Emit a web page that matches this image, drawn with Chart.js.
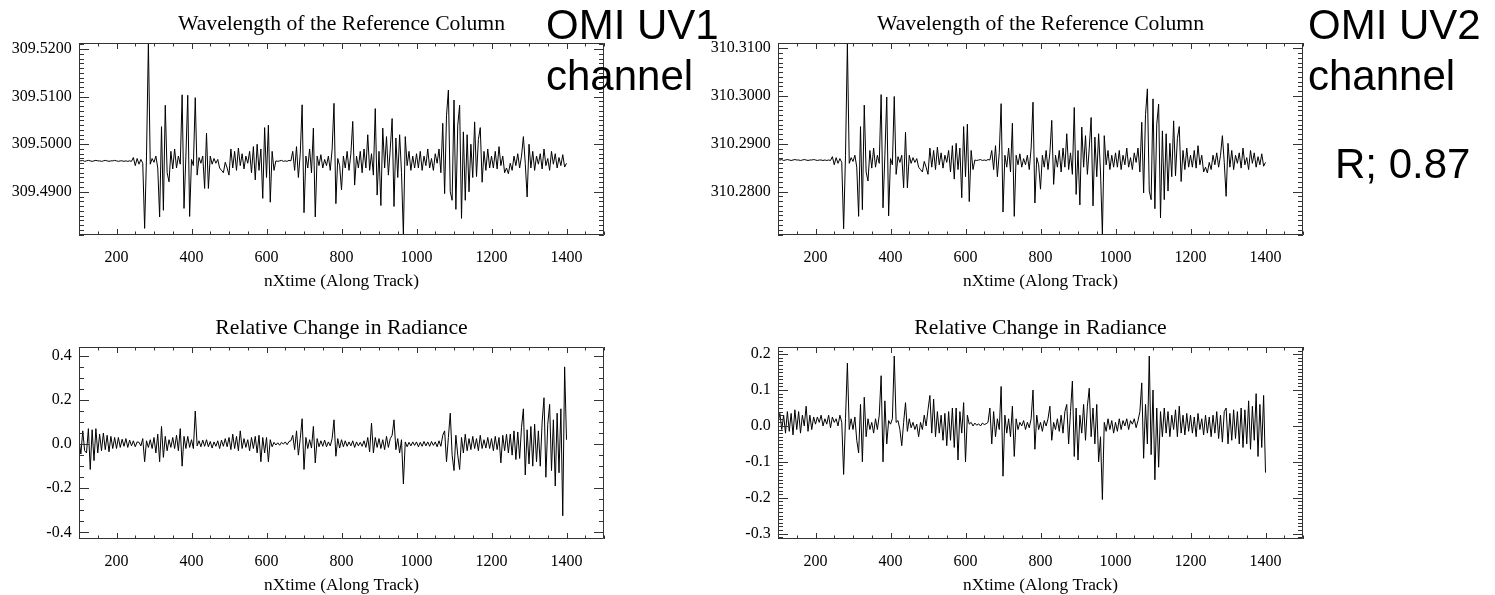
<!DOCTYPE html>
<html>
<head>
<meta charset="utf-8">
<title>OMI UV1 / UV2 reference column</title>
<script src="https://cdn.jsdelivr.net/npm/chart.js@4.4.1/dist/chart.umd.min.js"></script>
<style>
  body { margin: 0; background: #fff; overflow: hidden; }
  #page { position: relative; width: 1495px; height: 595px; overflow: hidden; background: #fff; }
  #page canvas { position: absolute; }
  .tag { position: absolute; font-family: 'Liberation Sans', Arial, sans-serif; font-size: 42px;
         line-height: 51.4px; color: #000; white-space: nowrap; }
</style>
</head>
<body>
<div id="page">
  <canvas id="uv1Wave" width="640" height="300" style="left:0;top:0"></canvas>
  <canvas id="uv2Wave" width="640" height="300" style="left:699px;top:0"></canvas>
  <canvas id="uv1Rad" width="640" height="300" style="left:0;top:304px"></canvas>
  <canvas id="uv2Rad" width="640" height="300" style="left:699px;top:304px"></canvas>
  <div class="tag" style="left:546px;top:-1px">OMI UV1<br>channel</div>
  <div class="tag" style="left:1308px;top:-1px">OMI UV2<br>channel</div>
  <div class="tag" style="left:1335px;top:138px">R; 0.87</div>
</div>

<script>
// along-track samples: every 5th nXtime from 100 to 1400
const xStart = 100;
const xStep = 5;
const xTickLabels = [200, 400, 600, 800, 1000, 1200, 1400];

const uv1WaveTicks = [309.49, 309.50, 309.51, 309.52];
const uv2WaveTicks = [310.28, 310.29, 310.30, 310.31];
const uv1RadTicks = [-0.4, -0.2, 0.0, 0.2, 0.4];
const uv2RadTicks = [-0.3, -0.2, -0.1, 0.0, 0.1, 0.2];

// wavelength of the reference column (nm)
const uv1Wavelength = [
  309.4966, 309.4965, 309.4966, 309.4964, 309.4965, 309.4966, 309.4965, 309.4964, 309.4965, 309.4966, 309.4965, 309.4965, 309.4964, 309.4965, 309.4966, 309.4965, 309.4964, 309.4965, 309.4965, 309.4966,
  309.4965, 309.4964, 309.4965, 309.4965, 309.4964, 309.4965, 309.4964, 309.4965, 309.4964, 309.4972, 309.4955, 309.4970, 309.4958, 309.4968, 309.4960, 309.4823, 309.4975, 309.5213, 309.4958, 309.4970,
  309.4962, 309.4975, 309.4950, 309.4847, 309.5037, 309.4861, 309.5082, 309.4940, 309.4921, 309.4985, 309.4948, 309.4990, 309.4950, 309.4975, 309.4958, 309.5104, 309.4865, 309.4975, 309.5103, 309.4848,
  309.4968, 309.4955, 309.5098, 309.4935, 309.4972, 309.4960, 309.4975, 309.4907, 309.5023, 309.4907, 309.4975, 309.4958, 309.4970, 309.4960, 309.4968, 309.4950, 309.4945, 309.4940, 309.4962, 309.4950,
  309.4935, 309.4990, 309.4950, 309.4985, 309.4945, 309.4992, 309.4955, 309.4980, 309.4948, 309.4975, 309.4960, 309.4985, 309.4940, 309.4995, 309.4925, 309.5000, 309.4945, 309.4990, 309.4886, 309.5035,
  309.4930, 309.5040, 309.4878, 309.4985, 309.4945, 309.4965, 309.4964, 309.4965, 309.4966, 309.4964, 309.4965, 309.4964, 309.4966, 309.4965, 309.4985, 309.4945, 309.4995, 309.4930, 309.4980, 309.5083,
  309.4856, 309.4975, 309.4950, 309.4990, 309.4940, 309.5034, 309.4847, 309.4975, 309.4955, 309.4978, 309.4950, 309.4968, 309.4955, 309.4975, 309.4945, 309.4990, 309.5086, 309.4875, 309.4970, 309.4955,
  309.4904, 309.4975, 309.4950, 309.4985, 309.4945, 309.4980, 309.5048, 309.4914, 309.4975, 309.4950, 309.4985, 309.4940, 309.4990, 309.4950, 309.5020, 309.4945, 309.4980, 309.4935, 309.5075, 309.4893,
  309.4985, 309.4871, 309.5034, 309.4950, 309.5016, 309.4935, 309.4990, 309.5054, 309.4869, 309.5013, 309.4930, 309.5020, 309.4940, 309.4809, 309.5016, 309.4955, 309.4985, 309.4945, 309.4975, 309.4950,
  309.4980, 309.4950, 309.4985, 309.4945, 309.4975, 309.4955, 309.4990, 309.4950, 309.4970, 309.4945, 309.4980, 309.4960, 309.4990, 309.4940, 309.5044, 309.4896, 309.5060, 309.5114, 309.4900, 309.4882,
  309.5093, 309.4863, 309.5040, 309.5082, 309.4844, 309.5026, 309.4882, 309.5020, 309.4900, 309.5000, 309.4930, 309.5047, 309.4932, 309.5010, 309.5035, 309.4920, 309.4985, 309.4945, 309.4990, 309.4950,
  309.4975, 309.4950, 309.4985, 309.4948, 309.4995, 309.4955, 309.4975, 309.4940, 309.4950, 309.4938, 309.4960, 309.4945, 309.4975, 309.4955, 309.4980, 309.4950, 309.4975, 309.5016, 309.4960, 309.4889,
  309.5000, 309.4950, 309.4985, 309.4945, 309.4975, 309.4958, 309.4980, 309.4948, 309.4990, 309.4955, 309.4970, 309.4945, 309.4985, 309.4958, 309.4980, 309.4950, 309.4972, 309.4955, 309.4978, 309.4952,
  309.4960
];

const uv2Wavelength = [
  310.2867, 310.2866, 310.2867, 310.2865, 310.2866, 310.2867, 310.2866, 310.2865, 310.2866, 310.2867, 310.2866, 310.2866, 310.2865, 310.2866, 310.2867, 310.2866, 310.2865, 310.2866, 310.2866, 310.2867,
  310.2866, 310.2865, 310.2866, 310.2866, 310.2865, 310.2866, 310.2865, 310.2866, 310.2865, 310.2873, 310.2856, 310.2871, 310.2859, 310.2869, 310.2861, 310.2722, 310.2876, 310.3110, 310.2859, 310.2871,
  310.2863, 310.2876, 310.2851, 310.2748, 310.2936, 310.2762, 310.2981, 310.2841, 310.2822, 310.2886, 310.2849, 310.2891, 310.2851, 310.2876, 310.2859, 310.3003, 310.2766, 310.2876, 310.2998, 310.2749,
  310.2869, 310.2856, 310.2999, 310.2836, 310.2873, 310.2861, 310.2876, 310.2808, 310.2924, 310.2808, 310.2876, 310.2859, 310.2871, 310.2861, 310.2869, 310.2851, 310.2846, 310.2841, 310.2863, 310.2851,
  310.2836, 310.2891, 310.2851, 310.2886, 310.2846, 310.2893, 310.2856, 310.2881, 310.2849, 310.2876, 310.2861, 310.2886, 310.2841, 310.2896, 310.2826, 310.2901, 310.2846, 310.2891, 310.2787, 310.2936,
  310.2831, 310.2941, 310.2779, 310.2886, 310.2846, 310.2866, 310.2865, 310.2866, 310.2867, 310.2865, 310.2866, 310.2865, 310.2867, 310.2866, 310.2886, 310.2846, 310.2896, 310.2831, 310.2881, 310.2984,
  310.2757, 310.2876, 310.2851, 310.2891, 310.2841, 310.2943, 310.2748, 310.2876, 310.2856, 310.2879, 310.2851, 310.2869, 310.2856, 310.2876, 310.2846, 310.2891, 310.2987, 310.2776, 310.2871, 310.2856,
  310.2805, 310.2876, 310.2851, 310.2886, 310.2846, 310.2881, 310.2949, 310.2815, 310.2876, 310.2851, 310.2886, 310.2841, 310.2891, 310.2851, 310.2921, 310.2846, 310.2881, 310.2836, 310.2976, 310.2794,
  310.2886, 310.2772, 310.2935, 310.2851, 310.2917, 310.2836, 310.2891, 310.2955, 310.2770, 310.2914, 310.2831, 310.2921, 310.2841, 310.2710, 310.2917, 310.2856, 310.2886, 310.2846, 310.2876, 310.2851,
  310.2881, 310.2851, 310.2886, 310.2846, 310.2876, 310.2856, 310.2891, 310.2851, 310.2871, 310.2846, 310.2881, 310.2861, 310.2891, 310.2841, 310.2945, 310.2797, 310.2961, 310.3015, 310.2801, 310.2783,
  310.2994, 310.2764, 310.2941, 310.2983, 310.2745, 310.2927, 310.2783, 310.2921, 310.2801, 310.2901, 310.2831, 310.2948, 310.2833, 310.2911, 310.2936, 310.2821, 310.2886, 310.2846, 310.2891, 310.2851,
  310.2876, 310.2851, 310.2886, 310.2849, 310.2896, 310.2856, 310.2876, 310.2841, 310.2851, 310.2839, 310.2861, 310.2846, 310.2876, 310.2856, 310.2881, 310.2851, 310.2876, 310.2917, 310.2861, 310.2790,
  310.2901, 310.2851, 310.2886, 310.2846, 310.2876, 310.2859, 310.2881, 310.2849, 310.2891, 310.2856, 310.2871, 310.2846, 310.2886, 310.2859, 310.2881, 310.2851, 310.2873, 310.2856, 310.2879, 310.2853,
  310.2861
];

// relative change in radiance
const uv1Radiance = [
  0.020, -0.045, 0.060, -0.030, -0.040, 0.070, -0.115, 0.065, -0.075, 0.070, -0.040, 0.045, -0.030, 0.050, -0.025, 0.040, -0.035, 0.035, -0.020, 0.030,
  -0.020, 0.030, -0.015, 0.022, -0.010, 0.025, -0.015, 0.018, -0.008, 0.015, -0.012, 0.010, 0.008, -0.008, 0.025, -0.080, 0.015, -0.015, 0.020, -0.020,
  0.030, -0.040, 0.045, -0.080, 0.080, -0.060, 0.035, -0.030, 0.020, -0.015, 0.030, -0.020, 0.040, -0.030, 0.070, -0.100, 0.035, -0.020, 0.035, -0.015,
  0.020, -0.020, 0.150, -0.008, 0.015, -0.012, 0.018, -0.010, 0.020, -0.012, 0.012, -0.018, 0.010, -0.010, 0.015, -0.020, 0.018, -0.010, 0.025, -0.012,
  0.030, -0.025, 0.045, -0.020, 0.035, -0.030, 0.060, -0.020, 0.025, -0.015, 0.020, -0.030, 0.030, -0.020, 0.035, -0.040, 0.040, -0.080, 0.030, -0.040,
  0.030, -0.080, 0.020, -0.012, 0.008, -0.004, 0.006, -0.005, 0.008, 0.000, 0.010, -0.003, 0.012, 0.015, 0.040, -0.025, 0.060, -0.050, 0.025, 0.115,
  -0.115, 0.030, -0.020, 0.020, -0.018, 0.080, -0.085, 0.025, -0.012, 0.015, -0.010, 0.018, -0.012, 0.010, -0.008, 0.025, 0.110, -0.055, 0.025, -0.018,
  0.020, -0.012, 0.015, -0.010, 0.010, -0.008, 0.015, -0.015, 0.010, -0.008, 0.008, -0.010, 0.015, -0.015, 0.030, -0.035, 0.095, -0.040, 0.030, -0.015,
  0.025, -0.020, 0.020, -0.025, 0.035, -0.015, 0.025, 0.040, 0.110, -0.025, 0.025, -0.040, 0.020, -0.180, 0.010, -0.012, 0.008, -0.008, 0.010, -0.006,
  0.010, -0.012, 0.008, -0.010, 0.012, -0.008, 0.010, -0.010, 0.012, -0.006, 0.010, -0.012, 0.015, -0.010, 0.040, 0.060, -0.080, 0.030, 0.140, -0.050,
  -0.120, 0.040, -0.050, -0.115, 0.030, -0.040, 0.045, -0.030, 0.025, -0.025, 0.035, -0.020, 0.025, -0.030, 0.040, -0.020, 0.020, -0.018, 0.030, -0.020,
  0.025, -0.030, 0.035, -0.025, 0.030, -0.085, 0.040, -0.030, 0.045, -0.040, 0.045, -0.050, 0.060, -0.070, 0.055, -0.065, 0.075, 0.160, -0.140, 0.065,
  -0.090, 0.080, -0.100, 0.090, -0.080, 0.060, -0.100, 0.100, 0.210, -0.150, 0.090, 0.180, -0.120, 0.110, -0.190, 0.140, -0.130, 0.160, -0.325, 0.350,
  0.020
];

const uv2Radiance = [
  0.010, 0.035, -0.010, 0.030, -0.020, 0.040, -0.015, 0.035, -0.025, 0.045, -0.010, 0.040, -0.020, 0.030, 0.000, 0.055, -0.015, 0.030, -0.010, 0.025,
  0.005, 0.025, 0.010, 0.030, 0.000, 0.020, 0.005, 0.030, -0.005, 0.025, 0.010, 0.020, 0.000, 0.030, 0.010, -0.135, 0.020, 0.175, -0.010, 0.020,
  -0.010, 0.025, -0.040, -0.075, 0.060, -0.100, 0.080, -0.030, 0.020, -0.010, 0.010, -0.020, 0.020, -0.010, 0.030, 0.140, -0.100, 0.070, -0.050, 0.015,
  0.005, 0.020, 0.195, 0.010, 0.015, -0.010, -0.055, 0.010, 0.065, -0.015, 0.020, -0.005, 0.010, -0.010, 0.005, -0.030, 0.010, -0.010, 0.030, 0.000,
  0.045, 0.085, -0.020, 0.075, -0.030, 0.040, -0.020, 0.030, -0.040, 0.035, -0.055, 0.040, -0.040, 0.050, -0.060, 0.050, -0.095, 0.040, -0.020, 0.065,
  -0.100, 0.030, 0.005, 0.010, 0.000, 0.008, 0.002, 0.006, 0.000, 0.008, 0.004, 0.006, 0.010, 0.050, -0.050, 0.040, -0.030, 0.020, -0.010, 0.110,
  -0.140, 0.030, -0.020, 0.020, -0.030, 0.055, -0.085, 0.020, -0.010, 0.010, 0.000, 0.015, -0.010, 0.010, -0.005, 0.020, 0.100, -0.065, 0.030, -0.010,
  0.010, -0.015, 0.015, 0.000, 0.020, 0.055, -0.040, 0.010, -0.010, 0.020, -0.015, 0.030, -0.020, 0.040, 0.060, -0.050, 0.040, 0.125, -0.085, 0.050,
  -0.095, 0.030, -0.020, 0.060, -0.040, 0.055, 0.105, -0.030, 0.050, -0.050, 0.060, -0.100, -0.030, -0.205, 0.010, -0.015, 0.020, -0.010, 0.015, -0.020,
  0.010, -0.015, 0.020, -0.010, 0.015, 0.000, 0.020, -0.010, 0.015, 0.005, 0.020, -0.005, 0.015, 0.040, 0.120, -0.090, 0.060, -0.050, 0.195, -0.080,
  0.100, -0.150, 0.050, -0.115, 0.040, -0.030, 0.050, -0.020, 0.040, -0.030, 0.030, -0.010, 0.045, -0.030, 0.055, -0.020, 0.030, -0.025, 0.035, -0.015,
  0.030, -0.020, 0.025, -0.030, 0.035, -0.010, 0.020, -0.025, 0.030, -0.020, 0.025, -0.030, 0.030, -0.020, 0.040, -0.035, 0.030, -0.045, 0.040, 0.050,
  -0.050, 0.035, -0.040, 0.045, -0.035, 0.040, -0.050, 0.050, -0.060, 0.045, -0.050, 0.070, -0.065, 0.055, -0.040, 0.090, -0.085, 0.060, -0.060, 0.085,
  -0.130
];

const serif = "'Liberation Serif', 'Times New Roman', serif";

// closed frame with inward ticks on all four sides
const axisFrame = {
  id: 'axisFrame',
  afterDraw(chart, args, opts) {
    const { ctx, chartArea: a, scales: { x, y } } = chart;
    ctx.save();
    ctx.strokeStyle = '#333';
    ctx.lineWidth = 1;
    ctx.beginPath();
    ctx.rect(a.left + 0.5, a.top + 0.5, a.width - 1, a.height - 1);

    for (let v = x.min; v <= x.max; v += 50) {
      const px = Math.round(x.getPixelForValue(v)) + 0.5;
      const len = xTickLabels.includes(v) ? 6 : 3.5;
      ctx.moveTo(px, a.bottom); ctx.lineTo(px, a.bottom - len);
      ctx.moveTo(px, a.top); ctx.lineTo(px, a.top + len);
    }

    const step = opts.minor;
    for (let k = Math.ceil(y.min / step - 1e-6); k * step <= y.max + 1e-9; k++) {
      const v = k * step;
      const py = Math.round(y.getPixelForValue(v)) + 0.5;
      const major = opts.majors.some(t => Math.abs(t - v) < step / 2);
      const len = major ? 10 : 5;
      ctx.moveTo(a.left, py); ctx.lineTo(a.left + len, py);
      ctx.moveTo(a.right, py); ctx.lineTo(a.right - len, py);
    }
    ctx.stroke();
    ctx.restore();
  }
};

function makePanel(id, title, values, yMin, yMax, yTicks, yMinor, digits) {
  const points = values.map((v, i) => ({ x: xStart + i * xStep, y: v }));
  return new Chart(document.getElementById(id), {
    type: 'line',
    data: {
      datasets: [{
        data: points,
        borderColor: '#000',
        borderWidth: 1,
        pointRadius: 0,
        tension: 0,
        fill: false
      }]
    },
    options: {
      responsive: false,
      animation: false,
      events: [],
      layout: { padding: { left: 0, right: 36, top: 0, bottom: 0 } },
      plugins: {
        legend: { display: false },
        tooltip: { enabled: false },
        title: {
          display: true,
          text: title,
          fullSize: false,
          color: '#000',
          font: { family: serif, size: 21.7, weight: 'normal' },
          padding: { top: 11.4, bottom: 5.56 }
        },
        axisFrame: { minor: yMinor, majors: yTicks }
      },
      scales: {
        x: {
          type: 'linear',
          min: 100,
          max: 1500,
          grid: { display: false, drawTicks: false },
          border: { display: false },
          afterBuildTicks: s => { s.ticks = xTickLabels.map(v => ({ value: v })); },
          ticks: {
            color: '#000',
            font: { family: serif, size: 16 },
            padding: 13,
            maxRotation: 0,
            autoSkip: false,
            callback: v => String(v)
          },
          title: {
            display: true,
            text: 'nXtime (Along Track)',
            color: '#000',
            font: { family: serif, size: 17.3 },
            padding: { top: 0, bottom: 8.5 }
          },
          afterFit: s => { s.height = 65; }
        },
        y: {
          type: 'linear',
          min: yMin,
          max: yMax,
          grid: { display: false, drawTicks: false },
          border: { display: false },
          afterBuildTicks: s => { s.ticks = yTicks.map(v => ({ value: v })); },
          ticks: {
            color: '#000',
            font: { family: serif, size: 16 },
            padding: 7.3,
            autoSkip: false,
            callback: v => v.toFixed(digits)
          },
          afterFit: s => { s.width = 79; }
        }
      }
    },
    plugins: [axisFrame]
  });
}

makePanel('uv1Wave', 'Wavelength of the Reference Column', uv1Wavelength, 309.4809, 309.5213, uv1WaveTicks, 0.001, 4);
makePanel('uv2Wave', 'Wavelength of the Reference Column', uv2Wavelength, 310.2709, 310.3111, uv2WaveTicks, 0.001, 4);
makePanel('uv1Rad', 'Relative Change in Radiance', uv1Radiance, -0.43, 0.44, uv1RadTicks, 0.05, 1);
makePanel('uv2Rad', 'Relative Change in Radiance', uv2Radiance, -0.315, 0.22, uv2RadTicks, 0.01, 1);
</script>
</body>
</html>
